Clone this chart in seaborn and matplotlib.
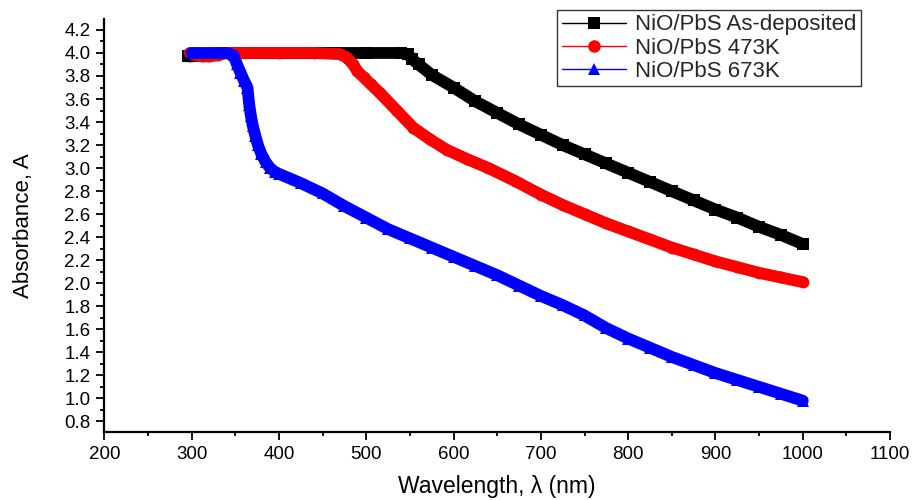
import matplotlib

matplotlib.use("Agg")
import matplotlib.pyplot as plt
import pandas as pd
import seaborn as sns
from matplotlib.lines import Line2D
from matplotlib.ticker import MultipleLocator, FormatStrFormatter

# values
labels = ["NiO/PbS As-deposited", "NiO/PbS 473K", "NiO/PbS 673K"]
colors = ["#000000", "#ff0000", "#0000ff"]
markers = ["s", "o", "^"]

asdep_wl = [296, 300, 310, 320, 340, 360, 400, 450, 500, 540, 548, 552, 560, 575, 600,
            625, 650, 675, 700, 725, 750, 775, 800, 825, 850, 875, 900, 925, 950, 975, 1000]
asdep_abs = [3.97, 3.97, 3.98, 3.99, 4.0, 4.0, 4.0, 4.0, 4.0, 4.0, 3.99, 3.95, 3.90, 3.81, 3.70,
             3.58, 3.48, 3.38, 3.29, 3.20, 3.12, 3.04, 2.96, 2.88, 2.80, 2.72, 2.64, 2.57, 2.49, 2.42, 2.34]

k473_wl = [298, 305, 312, 320, 330, 340, 360, 400, 440, 470, 478, 485, 490, 497, 505, 516, 535,
           554, 573, 592, 615, 640, 670, 700, 725, 750, 775, 800, 825, 850, 875, 900, 925, 950, 975, 1000]
k473_abs = [4.0, 3.98, 3.97, 3.97, 3.98, 4.0, 4.0, 4.0, 4.0, 3.99, 3.96, 3.90, 3.84, 3.79, 3.73, 3.65, 3.50,
            3.35, 3.25, 3.16, 3.08, 3.00, 2.89, 2.77, 2.68, 2.60, 2.52, 2.45, 2.38, 2.31, 2.25, 2.19, 2.14, 2.09, 2.05, 2.01]

k673_wl = [300, 310, 320, 330, 340, 348, 352, 356, 360, 364, 366, 368, 370, 373, 376, 380, 385, 390, 395,
           400, 425, 450, 475, 500, 525, 550, 575, 600, 625, 650, 675, 700, 725, 750, 775, 800, 825, 850,
           875, 900, 925, 950, 975, 1000]
k673_abs = [4.0, 4.0, 4.0, 4.0, 4.0, 3.98, 3.90, 3.83, 3.76, 3.70, 3.55, 3.45, 3.37, 3.28, 3.20, 3.12, 3.05, 3.00, 2.97,
            2.95, 2.87, 2.78, 2.67, 2.57, 2.47, 2.39, 2.31, 2.23, 2.15, 2.07, 1.98, 1.89, 1.81, 1.72, 1.61, 1.52, 1.44, 1.36,
            1.29, 1.22, 1.16, 1.10, 1.04, 0.98]

df = pd.concat(
    [
        pd.DataFrame({"wavelength": asdep_wl, "absorbance": asdep_abs, "sample": labels[0]}),
        pd.DataFrame({"wavelength": k473_wl, "absorbance": k473_abs, "sample": labels[1]}),
        pd.DataFrame({"wavelength": k673_wl, "absorbance": k673_abs, "sample": labels[2]}),
    ],
    ignore_index=True,
)

sns.set_theme(style="ticks")
plt.rcParams["font.family"] = ["Liberation Sans", "DejaVu Sans"]

fig = plt.figure(figsize=(9.18, 5.0), dpi=100)
ax = fig.add_axes([0.1136, 0.136, 0.856, 0.826])

sns.lineplot(
    data=df, x="wavelength", y="absorbance", hue="sample", style="sample",
    palette=dict(zip(labels, colors)), markers=dict(zip(labels, markers)),
    dashes=False, estimator=None, sort=False, linewidth=8.5, markersize=8.5,
    markeredgewidth=0, legend=False, ax=ax,
)

ax.set_xlim(200, 1100)
ax.set_ylim(0.708, 4.295)
ax.xaxis.set_major_locator(MultipleLocator(100))
ax.xaxis.set_minor_locator(MultipleLocator(50))
ax.yaxis.set_major_locator(MultipleLocator(0.2))
ax.yaxis.set_minor_locator(MultipleLocator(0.1))
ax.yaxis.set_major_formatter(FormatStrFormatter("%.1f"))

for side in ["top", "right"]:
    ax.spines[side].set_visible(False)
for side in ["left", "bottom"]:
    ax.spines[side].set_linewidth(1.6)
    ax.spines[side].set_color("black")
ax.tick_params(which="major", direction="out", length=6, width=1.3, colors="black",
               labelsize=13.5, pad=4)
ax.tick_params(which="minor", direction="out", length=3, width=1.3, colors="black")

ax.set_xlabel("Wavelength, λ (nm)", fontsize=16.5, color="black", labelpad=9)
ax.set_ylabel("Absorbance, A", fontsize=16, color="black", labelpad=22)

handles = [
    Line2D([0], [0], color=c, lw=1, marker=m, markersize=9, markeredgewidth=0)
    for c, m in zip(colors, markers)
]
leg = fig.legend(
    handles, labels, loc="upper right", bbox_to_anchor=(0.938, 0.98),
    bbox_transform=fig.transFigure, fontsize=16, frameon=True, fancybox=False,
    handlelength=2.9, handletextpad=0.4, labelspacing=0.1, borderpad=0.2,
    borderaxespad=0,
)
leg.get_frame().set_edgecolor("black")
leg.get_frame().set_linewidth(1.0)

fig.savefig("out.png", dpi=100)
